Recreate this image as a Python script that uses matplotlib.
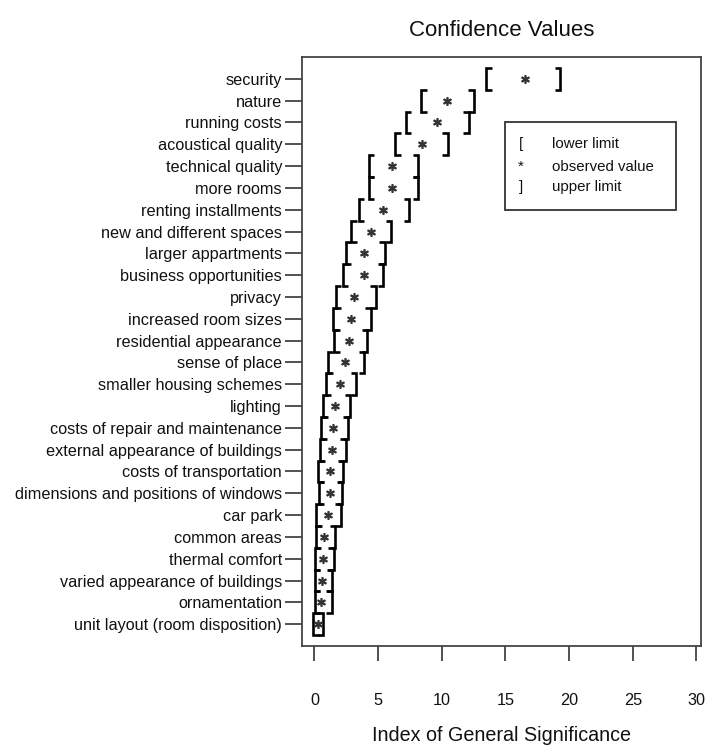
import matplotlib
matplotlib.use("Agg")
import matplotlib.pyplot as plt
from matplotlib.patches import Rectangle

plt.rcParams['font.family'] = ['Liberation Sans', 'DejaVu Sans']

categories = [
    "security", "nature", "running costs", "acoustical quality",
    "technical quality", "more rooms", "renting installments",
    "new and different spaces", "larger appartments", "business opportunities",
    "privacy", "increased room sizes", "residential appearance", "sense of place",
    "smaller housing schemes", "lighting", "costs of repair and maintenance",
    "external appearance of buildings", "costs of transportation",
    "dimensions and positions of windows", "car park", "common areas",
    "thermal comfort", "varied appearance of buildings", "ornamentation",
    "unit layout (room disposition)",
]
lower = [13.5, 8.4, 7.15, 6.35, 4.25, 4.25, 3.5, 2.9, 2.45, 2.25,
         1.7, 1.45, 1.55, 1.05, 0.9, 0.65, 0.55, 0.4, 0.3, 0.35,
         0.15, 0.1, 0.05, 0.05, 0.05, -0.1]
observed = [16.5, 10.4, 9.6, 8.45, 6.1, 6.1, 5.4, 4.4, 3.9, 3.85,
            3.1, 2.9, 2.75, 2.4, 2.0, 1.6, 1.45, 1.35, 1.2, 1.2,
            1.05, 0.75, 0.7, 0.6, 0.55, 0.25]
upper = [19.3, 12.5, 12.1, 10.45, 8.15, 8.15, 7.45, 6.0, 5.5, 5.4,
         4.8, 4.4, 4.15, 3.9, 3.3, 2.8, 2.65, 2.45, 2.25, 2.2,
         2.05, 1.65, 1.5, 1.4, 1.35, 0.7]
xticks = [0, 5, 10, 15, 20, 25, 30]
legend_labels = ["lower limit", "observed value", "upper limit"]
legend_symbols = ["[", "*", "]"]

W, H = 706, 745
fig = plt.figure(figsize=(W / 100, H / 100), dpi=100)
ax = fig.add_axes([301.5 / W, 1 - 646 / H, 399.5 / W, 589 / H])

n = len(categories)
ypos = [n - i for i in range(n)]
h = 0.5
s = 0.42
lw = 1.9
for lo, ob, hi, y in zip(lower, observed, upper, ypos):
    ax.plot([lo + s, lo, lo, lo + s], [y + h, y + h, y - h, y - h],
            color='black', lw=lw, solid_joinstyle='miter', solid_capstyle='butt')
    ax.plot([hi - s, hi, hi, hi - s], [y + h, y + h, y - h, y - h],
            color='black', lw=lw, solid_joinstyle='miter', solid_capstyle='butt')
ax.plot(observed, ypos, linestyle='none', marker=r'$*$', ms=5.5, color='#333333')

ax.set_xlim(-1.02, 30.36)
ax.set_ylim(0, n + 1)
ax.set_yticks(ypos)
ax.set_yticklabels(categories, fontsize=11.7)
ax.set_xticks(xticks)
ax.set_xticklabels([str(t) for t in xticks], fontsize=11.7)
ax.tick_params(axis='y', direction='out', length=12, width=1.2, pad=2, colors='#333333', labelcolor='#111111')
ax.tick_params(axis='x', direction='out', length=11, width=1.2, pad=23, colors='#333333', labelcolor='#111111')
for sp in ax.spines.values():
    sp.set_color('#444444')
    sp.set_linewidth(1.3)

ax.set_title("Confidence Values", fontsize=16, pad=15, color='#111111')
ax.set_xlabel("Index of General Significance", fontsize=14.2, color='#111111')
ax.xaxis.set_label_coords(0.5, -0.1355)

# legend box
ax.add_patch(Rectangle((0.509, 0.740), 0.428, 0.1496, transform=ax.transAxes,
                       fill=False, edgecolor='#333333', lw=1.3))
for sym, lab, yy in zip(legend_symbols, legend_labels, [0.852, 0.814, 0.779]):
    ax.text(0.549, yy, sym, transform=ax.transAxes, ha='center', va='center',
            fontsize=10.8, color='#111111')
    ax.text(0.626, yy, lab, transform=ax.transAxes, ha='left', va='center',
            fontsize=10.8, color='#111111')

fig.savefig("out.png", dpi=100)
